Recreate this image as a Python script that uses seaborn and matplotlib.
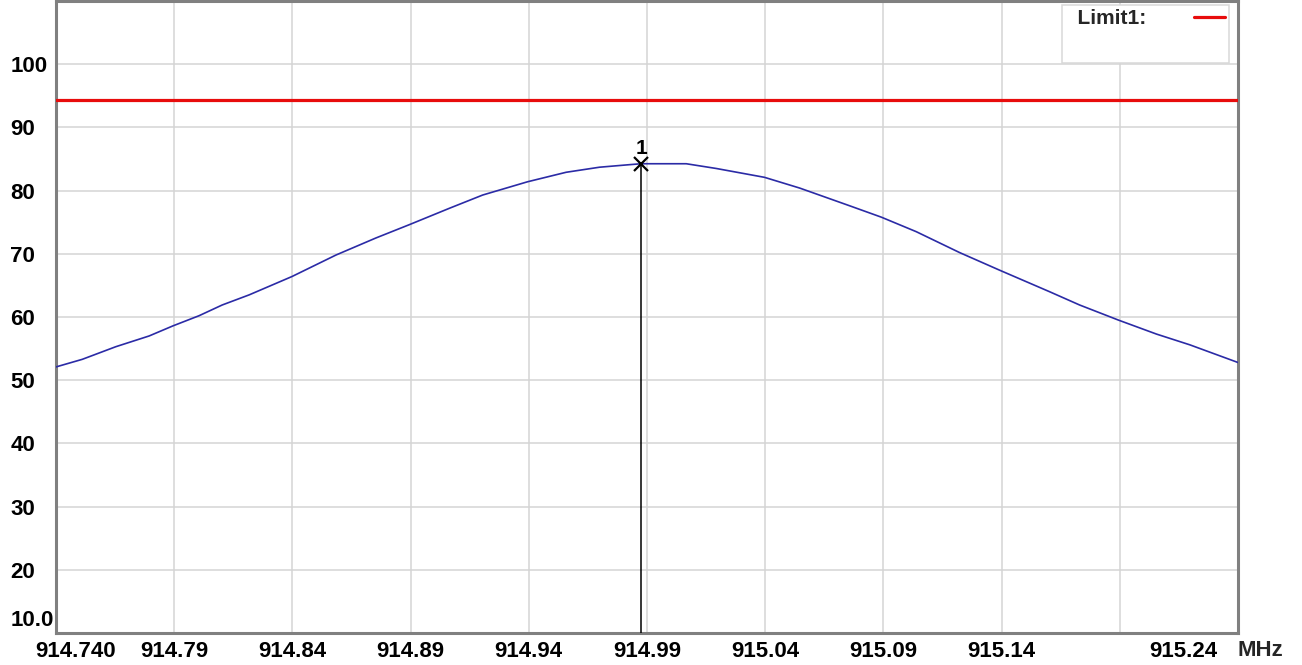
"""Спектр: уровень сигнала около 915 МГц с линией Limit1 и маркером 1."""
import matplotlib

matplotlib.use("Agg")
import matplotlib.pyplot as plt
import matplotlib.transforms as mtransforms
import seaborn as sns

# --- данные ---
FREQ_MHZ = [
    914.7400, 914.7511, 914.7653, 914.7794, 914.7895, 914.8005, 914.8103,
    914.8217, 914.8398, 914.8584, 914.8753, 914.8894, 914.9064, 914.9205,
    914.9395, 914.9558, 914.9699, 914.9825, 914.9875, 914.9910, 915.0066,
    915.0193, 915.0397, 915.0546, 915.0757, 915.0891, 915.1039, 915.1222,
    915.1392, 915.1603, 915.1730, 915.1895, 915.2055, 915.2196, 915.2400,
]
LEVEL = [
    52.1, 53.3, 55.3, 57.0, 58.6, 60.2, 61.9,
    63.5, 66.4, 69.8, 72.5, 74.6, 77.2, 79.3,
    81.4, 82.9, 83.7, 84.1, 84.25, 84.25, 84.25,
    83.5, 82.1, 80.4, 77.6, 75.8, 73.5, 70.2,
    67.4, 64.0, 61.9, 59.5, 57.3, 55.6, 52.8,
]
LIMIT1 = 94.3
MARKER_FREQ = 914.9875
MARKER_LEVEL = 84.25
MARKER_NAME = "1"

X_TICKS = [914.74, 914.79, 914.84, 914.89, 914.94, 914.99,
           915.04, 915.09, 915.14, 915.19, 915.24]
X_LABELS = ["914.740", "914.79", "914.84", "914.89", "914.94", "914.99",
            "915.04", "915.09", "915.14", "", "915.24"]
Y_TICKS = [10, 20, 30, 40, 50, 60, 70, 80, 90, 100]
Y_LABELS = ["10.0", "20", "30", "40", "50", "60", "70", "80", "90", "100"]
X_RANGE = (914.74, 915.24)
Y_RANGE = (10, 110)

sns.set_theme(style="whitegrid")
plt.rcParams["font.family"] = ["Liberation Sans", "DejaVu Sans"]
plt.rcParams["font.weight"] = "bold"
FS = 16

fig = plt.figure(figsize=(13.02, 6.65), dpi=100, facecolor="white")
ax = fig.add_axes([56 / 1302, 32 / 665, 1182 / 1302, 632 / 665])
ax.set_facecolor("white")

sns.lineplot(x=FREQ_MHZ, y=LEVEL, ax=ax, color="#2b2ba6", linewidth=1.2,
             zorder=3)
ax.axhline(LIMIT1, color="#e80c0c", linewidth=2.3, zorder=3, label="Limit1:")

# маркер 1 и вертикальная линия до низа
ax.vlines(MARKER_FREQ, Y_RANGE[0], MARKER_LEVEL, color="black", linewidth=1.1,
          zorder=4)
ax.plot([MARKER_FREQ], [MARKER_LEVEL], marker="x", color="black",
        markersize=9.5, markeredgewidth=1.6, zorder=5)
ax.annotate(MARKER_NAME, (MARKER_FREQ, MARKER_LEVEL), xytext=(0, 4),
            textcoords="offset points", ha="center", va="bottom",
            fontsize=15, fontweight="bold", color="black")

ax.set_xlim(*X_RANGE)
ax.set_ylim(*Y_RANGE)
ax.set_xticks(X_TICKS)
ax.set_xticklabels(X_LABELS, fontsize=FS, fontweight="bold")
ax.set_yticks(Y_TICKS)
ax.set_yticklabels(Y_LABELS, fontsize=FS, fontweight="bold", ha="left")
ax.tick_params(axis="x", length=0, pad=5.5, colors="black")
ax.tick_params(axis="y", length=0, pad=33, colors="black")
ax.grid(True, color="#d4d4d4", linewidth=1.1)
for sp in ax.spines.values():
    sp.set_color("#808080")
    sp.set_linewidth(2.2)
    sp.set_visible(True)

# крайние подписи сдвинуты, как в исходнике
def shift(label, dx_px, dy_px):
    off = mtransforms.ScaledTranslation(dx_px / 100, dy_px / 100,
                                        fig.dpi_scale_trans)
    label.set_transform(label.get_transform() + off)

xl = ax.get_xticklabels()
shift(xl[0], 20, 0)
shift(xl[-1], -55, 0)
shift(ax.get_yticklabels()[0], 0, 15)

fig.text(1260 / 1302, 1 - 650 / 665, "MHz", ha="center", va="center",
         fontsize=FS, fontweight="bold")

# легенда
handles, labels = ax.get_legend_handles_labels()
blank = plt.Line2D([], [], color="none")
leg = ax.legend(handles + [blank], ["  " + labels[0], ""],
                loc="upper right", bbox_to_anchor=(1 - 9 / 1182, 1 - 4 / 632),
                borderaxespad=0, borderpad=0.2, markerfirst=False,
                handlelength=1.5, handletextpad=2.25, labelspacing=0.58,
                fancybox=False, framealpha=1, edgecolor="#d8d8d8",
                prop={"size": 15, "weight": "bold"})
leg.get_frame().set_linewidth(1.1)
leg.set_zorder(6)

fig.savefig("out.png", dpi=100, facecolor="white")
